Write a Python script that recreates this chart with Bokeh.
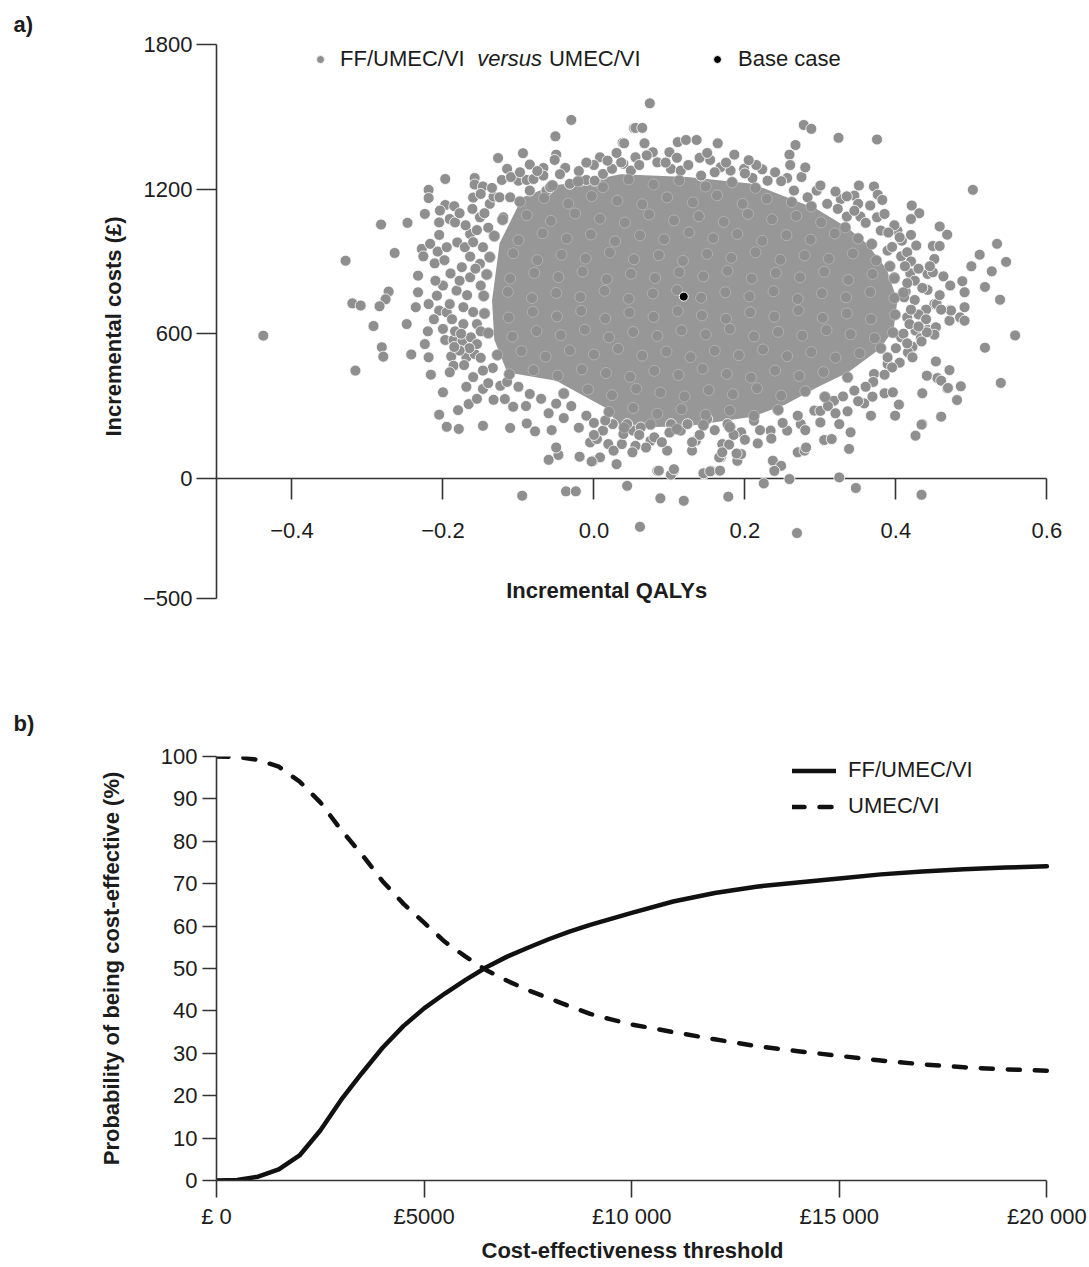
from bokeh.plotting import figure
from bokeh.layouts import column
from bokeh.models import (FixedTicker, CustomJSTickFormatter, Label, Legend, LegendItem,
                          LinearAxis, Range1d, Title)
from bokeh.embed import file_html
from bokeh.resources import INLINE

# ---------------- data: panel a (PSA scatter) ----------------
qaly_ticks = [-0.4, -0.2, 0.0, 0.2, 0.4, 0.6]
qaly_tick_labels = ["\u22120.4", "\u22120.2", "0.0", "0.2", "0.4", "0.6"]
cost_ticks = [-500, 0, 600, 1200, 1800]
cost_tick_labels = ["\u2212500", "0", "600", "1200", "1800"]

base_qaly = [0.119]
base_cost = [754]

# outlying / fringe simulations (incremental QALYs, incremental costs)
fringe_points = [
    (-0.438, 592), (-0.329, 903), (-0.282, 1053), (-0.247, 1060), (-0.264, 935), (-0.320, 726),
    (-0.309, 717), (-0.272, 775), (-0.276, 743), (-0.284, 714), (-0.292, 632), (-0.248, 640),
    (-0.316, 447), (-0.281, 544), (-0.279, 505), (-0.242, 514), (-0.224, 557), (-0.219, 502),
    (-0.216, 430), (-0.200, 357), (-0.205, 264), (-0.195, 214), (-0.179, 205), (-0.147, 218),
    (-0.111, 209), (-0.089, 228), (-0.078, 195), (-0.056, 200), (-0.060, 77), (-0.047, 97),
    (-0.050, 128), (-0.019, 90), (-0.001, 73), (0.008, 87), (0.030, 59), (-0.005, 149),
    (0.004, 163), (0.019, 142), (0.026, 115), (0.037, 142), (0.012, 198), (0.025, 225),
    (0.039, 184), (0.052, 198), (-0.169, 380), (-0.180, 283), (-0.166, 308), (-0.155, 330),
    (-0.147, 371), (-0.133, 326), (-0.124, 384), (-0.118, 329), (-0.107, 297), (-0.197, 1242),
    (-0.219, 1197), (-0.219, 1163), (-0.224, 1097), (-0.158, 1246), (-0.158, 1219), (-0.147, 1211),
    (-0.127, 1329), (-0.115, 1284), (-0.122, 1238), (-0.094, 1349), (-0.085, 1302), (-0.067, 1288),
    (-0.051, 1419), (-0.050, 1343), (-0.052, 1321), (-0.038, 1288), (-0.030, 1487), (0.008, 1332),
    (0.038, 1392), (0.053, 1453), (-0.197, 1134), (-0.185, 1129), (-0.204, 1111), (-0.191, 1076),
    (-0.184, 1062), (-0.205, 1062), (-0.228, 952), (-0.226, 921), (-0.217, 973), (-0.207, 941),
    (-0.195, 959), (-0.211, 892), (-0.233, 841), (-0.233, 772), (-0.236, 710), (-0.219, 723),
    (-0.208, 758), (-0.205, 696), (-0.195, 689), (-0.191, 723), (-0.197, 574), (-0.186, 574),
    (-0.174, 571), (-0.163, 585), (-0.184, 610), (-0.189, 506), (-0.186, 467), (-0.191, 440),
    (-0.169, 502), (-0.158, 516), (-0.134, 458), (-0.181, 979), (-0.171, 959), (-0.164, 920),
    (-0.175, 876), (-0.161, 1118), (-0.151, 1083), (-0.138, 1139), (-0.133, 1169), (-0.125, 1166),
    (-0.100, 1235), (-0.089, 1238), (-0.080, 1242), (-0.067, 1256), (-0.063, 1194), (-0.018, 1235),
    (-0.010, 1238), (0.001, 1235), (0.012, 1263), (0.024, 1284), (0.039, 1305),
    (0.074, 1556), (0.055, 1454), (0.064, 1454), (0.040, 1390), (0.067, 1390), (0.078, 1353),
    (0.055, 1332), (0.100, 1353), (0.111, 1395), (0.122, 1404), (0.136, 1404), (0.164, 1390),
    (0.154, 1321), (0.186, 1343), (0.278, 1466), (0.288, 1450), (0.324, 1413), (0.375, 1406),
    (0.267, 1383), (0.259, 1343), (0.223, 1282), (0.256, 1246), (0.295, 1194), (0.351, 1215),
    (0.371, 1211), (0.376, 1177), (0.382, 1155), (0.327, 1159), (0.345, 1173), (0.350, 1139),
    (0.366, 1132), (0.323, 1118), (0.335, 1086), (0.353, 1086), (0.375, 1083), (0.385, 1097),
    (0.502, 1197), (0.421, 1132), (0.431, 1100), (0.420, 1076), (0.458, 1045), (0.468, 1011),
    (0.408, 986), (0.427, 966), (0.449, 964), (0.458, 964), (0.451, 910), (0.534, 973),
    (0.511, 928), (0.500, 880), (0.527, 859), (0.546, 898), (0.518, 794), (0.538, 741),
    (0.558, 593), (0.518, 542), (0.539, 396), (0.442, 848), (0.449, 855), (0.463, 838),
    (0.472, 800), (0.488, 818), (0.491, 772), (0.491, 710), (0.485, 668), (0.491, 654),
    (0.472, 699), (0.471, 654), (0.442, 782), (0.451, 723), (0.454, 723), (0.419, 851),
    (0.413, 775), (0.407, 921), (0.415, 938), (0.426, 613), (0.433, 581), (0.442, 616),
    (0.453, 627), (0.451, 596), (0.422, 546), (0.416, 523), (0.422, 502), (0.453, 485),
    (0.471, 449), (0.442, 425), (0.455, 416), (0.460, 405), (0.468, 373), (0.486, 382),
    (0.481, 325), (0.435, 353), (0.460, 256), (0.435, 225), (0.426, 177), (0.399, 260),
    (0.404, 306), (0.367, 260), (0.358, 311), (0.369, 339), (0.385, 353), (0.396, 357),
    (0.338, 122), (0.340, 191), (0.325, 225), (0.336, 278), (0.305, 159), (0.315, 163),
    (0.300, 232), (0.325, 4), (0.347, -40), (0.259, -3), (0.270, 108), (0.279, 115),
    (0.237, 73), (0.248, 52), (0.239, 31), (0.225, -21), (0.217, 145), (0.190, 73),
    (0.195, 101), (0.168, 87), (0.170, 142), (0.166, 31), (0.155, 31), (0.146, 18),
    (0.130, 115), (0.135, 156), (0.106, 31), (0.097, 115), (0.084, 31), (0.115, 198),
    (0.075, 156), (0.069, 128), (0.055, 135), (0.051, 108), (0.044, -31),
    (-0.095, -72), (-0.037, -54), (-0.024, -54), (0.088, -83), (0.119, -93), (0.061, -201),
    (0.178, -76), (0.269, -227), (0.434, -68), (0.086, 32), (0.102, 15), (0.106, 38),
    (0.145, 21), (0.154, 29), (0.167, 32), (-0.003, 70), (0.434, 223), (0.469, 375),
    (0.441, 426), (0.473, 696), (0.441, 606), (0.434, 568), (0.281, 128), (0.189, 103),
    (0.179, 140), (0.166, 87), (0.170, 108),
]

# semi-dense belt around the central mass
belt_points = [
    (0.036, 1311), (0.049, 1277), (0.084, 1311), (0.102, 1284), (0.115, 1277), (0.142, 1256),
    (0.168, 1291), (0.181, 1277), (0.199, 1284), (0.210, 1246), (0.230, 1235), (0.248, 1233),
    (0.265, 1194), (0.283, 1166), (0.309, 1139),
    (0.044, 225), (0.062, 211), (0.080, 170), (0.102, 225), (0.124, 225), (0.150, 246),
    (0.177, 225), (0.195, 191), (0.212, 239), (0.234, 198), (0.256, 198), (0.274, 225),
    (0.292, 281), (0.318, 322), (0.345, 364), (0.371, 433), (0.389, 474),
    (-0.164, 834), (-0.182, 779), (-0.173, 710), (-0.155, 640), (-0.164, 1014), (-0.147, 959),
    (-0.151, 890), (-0.155, 557), (-0.147, 447), (-0.173, 640),
    (-0.111, 1166), (-0.085, 1194), (-0.058, 1208), (-0.032, 1222), (-0.120, 1083),
    (0.389, 945), (0.398, 834), (0.411, 751), (0.415, 668), (0.407, 585), (0.389, 502),
    (0.380, 1028), (0.402, 1028),
    (-0.205, 1010), (-0.198, 905), (-0.190, 850), (-0.200, 800), (-0.178, 820), (-0.168, 760),
    (-0.188, 660), (-0.176, 600), (-0.160, 690), (-0.150, 610), (-0.165, 540), (-0.178, 530),
    (-0.150, 500), (-0.172, 470), (-0.160, 420), (-0.140, 395), (-0.155, 1030), (-0.170, 1050),
    (-0.145, 1100), (-0.160, 1165), (-0.178, 1100), (-0.150, 1180), (-0.135, 1205), (-0.210, 820),
    (-0.212, 660), (-0.200, 620), (-0.220, 610), (-0.185, 545), (-0.157, 870), (-0.150, 800),
    (-0.160, 980), (-0.140, 1040),
    (-0.110, 1250), (-0.098, 1270), (-0.075, 1275), (-0.045, 1262), (-0.020, 1275), (0.000, 1300),
    (0.018, 1318), (0.060, 1300), (0.095, 1310), (0.125, 1300), (0.140, 1330), (0.160, 1270),
    (0.175, 1310), (0.200, 1265), (0.215, 1300), (0.240, 1270), (0.275, 1250), (0.300, 1215),
    (0.320, 1190), (0.335, 1170), (0.280, 1290), (0.110, 1330), (0.070, 1340), (0.030, 1350),
    (-0.010, 1310), (0.150, 1350), (0.205, 1320), (0.260, 1300),
    (0.405, 1000), (0.420, 1010), (0.395, 960), (0.420, 900), (0.430, 870), (0.412, 880),
    (0.425, 820), (0.435, 790), (0.415, 810), (0.425, 740), (0.440, 700), (0.430, 680),
    (0.420, 700), (0.440, 660), (0.418, 640), (0.430, 630), (0.410, 600), (0.415, 560),
    (0.400, 540), (0.405, 480), (0.395, 460), (0.385, 430), (0.370, 400), (0.360, 380),
    (0.445, 880), (0.458, 760), (0.460, 700), (0.398, 1050), (0.390, 1020), (0.360, 1060),
    (0.345, 1110),
    (-0.100, 380), (-0.085, 350), (-0.070, 330), (-0.050, 310), (-0.030, 300), (-0.010, 260),
    (0.000, 230), (0.015, 240), (-0.020, 210), (-0.040, 250), (-0.060, 270), (-0.090, 300),
    (0.060, 180), (0.090, 150), (0.100, 190), (0.140, 180), (0.160, 200), (0.200, 160),
    (0.220, 200), (0.250, 230), (0.270, 260), (0.280, 200), (0.300, 280), (0.310, 300),
    (0.320, 270), (0.330, 340), (0.350, 320), (0.000, 180), (0.130, 150), (0.185, 180),
    (0.235, 165), (-0.115, 400),
]

# simulations inside the dense central mass
core_points = [
    (-0.055, 1215), (-0.021, 1232), (0.012, 1208), (0.046, 1240), (0.079, 1219), (0.113, 1236),
    (0.148, 1211), (0.183, 1228), (0.214, 1205),
    (-0.098, 1148), (-0.066, 1163), (-0.034, 1140), (-0.003, 1171), (0.031, 1152), (0.064, 1137),
    (0.097, 1166), (0.131, 1145), (0.163, 1174), (0.197, 1139), (0.229, 1160), (0.262, 1146),
    (0.288, 1128),
    (-0.121, 1073), (-0.089, 1092), (-0.057, 1068), (-0.025, 1099), (0.008, 1077), (0.041, 1061),
    (0.073, 1095), (0.106, 1070), (0.139, 1088), (0.172, 1064), (0.204, 1097), (0.236, 1075),
    (0.268, 1089), (0.301, 1062), (0.333, 1041),
    (-0.132, 1005), (-0.100, 988), (-0.068, 1017), (-0.036, 995), (-0.004, 1012), (0.028, 983),
    (0.061, 1008), (0.093, 992), (0.126, 1021), (0.158, 996), (0.190, 1014), (0.223, 985),
    (0.255, 1009), (0.287, 990), (0.319, 1016), (0.350, 995), (0.368, 972),
    (-0.138, 918), (-0.107, 934), (-0.075, 905), (-0.043, 928), (-0.011, 912), (0.021, 937),
    (0.053, 909), (0.086, 926), (0.118, 902), (0.150, 931), (0.182, 915), (0.214, 938),
    (0.247, 907), (0.279, 925), (0.311, 911), (0.343, 933), (0.374, 904), (0.392, 880),
    (-0.142, 846), (-0.111, 829), (-0.079, 852), (-0.047, 835), (-0.015, 858), (0.017, 826),
    (0.049, 849), (0.081, 831), (0.113, 855), (0.145, 838), (0.177, 861), (0.209, 829),
    (0.241, 852), (0.273, 834), (0.305, 857), (0.337, 823), (0.369, 848), (0.398, 830),
    (-0.146, 757), (-0.114, 774), (-0.082, 748), (-0.050, 769), (-0.018, 752), (0.014, 778),
    (0.046, 745), (0.078, 767), (0.110, 781), (0.142, 749), (0.174, 772), (0.206, 755),
    (0.238, 776), (0.270, 744), (0.302, 768), (0.334, 751), (0.366, 773), (0.398, 748),
    (0.410, 770),
    (-0.145, 684), (-0.113, 667), (-0.081, 691), (-0.049, 672), (-0.017, 695), (0.015, 663),
    (0.047, 688), (0.079, 670), (0.111, 694), (0.143, 676), (0.175, 662), (0.207, 689),
    (0.239, 671), (0.271, 697), (0.303, 666), (0.335, 684), (0.367, 661), (0.399, 679),
    (-0.140, 603), (-0.108, 588), (-0.076, 611), (-0.044, 594), (-0.012, 617), (0.020, 585),
    (0.052, 607), (0.084, 591), (0.116, 614), (0.148, 597), (0.180, 620), (0.212, 589),
    (0.244, 608), (0.276, 592), (0.308, 615), (0.340, 598), (0.372, 582), (0.396, 605),
    (-0.128, 512), (-0.096, 528), (-0.064, 505), (-0.032, 531), (0.000, 514), (0.032, 538),
    (0.064, 509), (0.096, 526), (0.128, 503), (0.160, 529), (0.192, 511), (0.224, 535),
    (0.256, 507), (0.288, 524), (0.320, 501), (0.352, 519), (0.380, 540),
    (-0.112, 432), (-0.080, 449), (-0.048, 426), (-0.016, 452), (0.016, 437), (0.048, 421),
    (0.080, 446), (0.112, 429), (0.144, 455), (0.176, 433), (0.208, 418), (0.240, 447),
    (0.272, 425), (0.304, 441), (0.336, 419),
    (-0.040, 352), (-0.008, 369), (0.024, 345), (0.056, 372), (0.088, 356), (0.120, 340),
    (0.152, 366), (0.184, 349), (0.216, 374), (0.248, 343), (0.280, 361), (0.306, 338),
    (0.020, 276), (0.052, 292), (0.084, 268), (0.116, 287), (0.148, 263), (0.180, 281),
    (0.212, 259), (0.244, 284),
    (0.040, 210), (0.075, 224), (0.110, 205), (0.145, 221), (0.180, 213),
]

# outline of the saturated (fully overplotted) central mass
core_outline_qaly = [-0.135, -0.125, -0.095, -0.055, -0.012, 0.035, 0.124, 0.210, 0.252, 0.295,
                     0.336, 0.362, 0.388, 0.402, 0.397, 0.379, 0.337, 0.296, 0.253, 0.210,
                     0.124, 0.037, 0.014, -0.050, -0.115, -0.132]
core_outline_cost = [737, 975, 1165, 1215, 1232, 1262, 1250, 1222, 1170, 1118,
                     1040, 972, 866, 737, 618, 538, 440, 378, 305, 256,
                     216, 210, 295, 405, 440, 575]

# ---------------- data: panel b (CEAC) ----------------
thresholds = [0, 500, 1000, 1500, 2000, 2500, 3000, 3500, 4000, 4500, 5000, 5500, 6000, 6500,
              7000, 7500, 8000, 8500, 9000, 9500, 10000, 11000, 12000, 13000, 14000, 15000,
              16000, 17000, 18000, 19000, 20000]
prob_ff_umec_vi = [0.0, 0.1, 0.9, 2.6, 5.9, 11.8, 19.0, 25.3, 31.3, 36.4, 40.6, 44.1, 47.3, 50.3,
                   52.8, 54.9, 56.9, 58.7, 60.3, 61.7, 63.1, 65.8, 67.8, 69.3, 70.3, 71.2,
                   72.2, 72.9, 73.4, 73.8, 74.1]
prob_umec_vi = [100.0, 99.9, 99.2, 97.6, 94.1, 89.2, 82.7, 76.9, 70.6, 65.3, 60.8, 56.3, 52.8, 49.6,
                47.1, 44.9, 43.0, 41.1, 39.3, 38.0, 36.8, 35.0, 33.3, 31.7, 30.5, 29.4,
                28.3, 27.4, 26.7, 26.2, 25.9]
prob_ticks = [0, 10, 20, 30, 40, 50, 60, 70, 80, 90, 100]
threshold_ticks = [0, 5000, 10000, 15000, 20000]
threshold_tick_labels = ["\u00a3 0", "\u00a35000", "\u00a310 000", "\u00a315 000", "\u00a320 000"]

# ---------------- styling ----------------
FONT = "Liberation Sans"
TEXT = "#1c1c1c"
AXIS = "#333333"
GRAY = "#8f8f8f"
CORE = "#979797"
FS = "22px"

LABEL_JS = ("const i = tv.findIndex(t => Math.abs(t - tick) < 1e-9);"
            "return i >= 0 ? tl[i] : '';")


def style_axis(ax, tick_out, standoff, label_standoff):
    ax.axis_line_color = AXIS
    ax.axis_line_width = 1.6
    ax.major_tick_line_color = AXIS
    ax.major_tick_line_width = 1.6
    ax.major_tick_out = tick_out
    ax.major_tick_in = 0
    ax.minor_tick_line_color = None
    ax.major_label_text_font = FONT
    ax.major_label_text_font_size = FS
    ax.major_label_text_color = TEXT
    ax.major_label_standoff = standoff
    ax.axis_label_text_font = FONT
    ax.axis_label_text_font_size = FS
    ax.axis_label_text_font_style = "bold"
    ax.axis_label_text_color = TEXT
    ax.axis_label_standoff = label_standoff


def style_title(t, align, offset, standoff):
    t.align = align
    t.offset = offset
    t.standoff = standoff
    t.text_font = FONT
    t.text_font_size = FS
    t.text_font_style = "bold"
    t.text_color = TEXT


# ---------------- panel a ----------------
pa = figure(width=1088, height=686, x_range=Range1d(-0.5, 0.63), y_range=Range1d(-540, 1800),
            x_axis_type=None, y_axis_type=None, output_backend="svg", toolbar_location=None,
            title="a)", min_border_left=216, min_border_right=19, min_border_top=44,
            min_border_bottom=78)
pa.outline_line_color = None
style_title(pa.title, "left", -203, 16)

xa = LinearAxis(fixed_location=0, ticker=FixedTicker(ticks=qaly_ticks), bounds=(-0.5, 0.6),
                formatter=CustomJSTickFormatter(args=dict(tv=qaly_ticks, tl=qaly_tick_labels), code=LABEL_JS))
style_axis(xa, 21, 24, 0)
xa.level = "underlay"
pa.add_layout(xa, "below")

ya = LinearAxis(ticker=FixedTicker(ticks=cost_ticks), axis_label="Incremental costs (\u00a3)",
                bounds=(-500, 1800),
                formatter=CustomJSTickFormatter(args=dict(tv=cost_ticks, tl=cost_tick_labels), code=LABEL_JS))
style_axis(ya, 20, 4, 14)
pa.add_layout(ya, "left")

all_points = fringe_points + belt_points + core_points
psa_qaly = [p[0] for p in all_points]
psa_cost = [p[1] for p in all_points]
n_edge = len(fringe_points) + len(belt_points)

pa.patch(core_outline_qaly, core_outline_cost, fill_color=CORE, line_color=None)
r_psa = pa.scatter(psa_qaly[:n_edge], psa_cost[:n_edge], size=11, fill_color=GRAY,
                   line_color="white", line_width=0.8)
pa.scatter(psa_qaly[n_edge:], psa_cost[n_edge:], size=11, fill_color=GRAY,
           line_color="#bcbcbc", line_width=0.7)
r_base = pa.scatter(base_qaly, base_cost, size=9, fill_color="black", line_color="white", line_width=1)

leg_kw = dict(padding=0, margin=0, glyph_width=20, glyph_height=20, label_height=25,
              label_text_font=FONT, label_text_font_size=FS, label_text_color=TEXT,
              border_line_color=None, background_fill_alpha=0)
leg1 = Legend(items=[LegendItem(label="FF/UMEC/VI", renderers=[r_psa])], location=(94, 536),
              label_standoff=10, **leg_kw)
leg2 = Legend(items=[LegendItem(label="Base case", renderers=[r_base])], location=(491, 536),
              label_standoff=11, **leg_kw)
pa.add_layout(leg1)
pa.add_layout(leg2)

pa.add_layout(Label(x=-0.1545, y=1740, text="versus", text_font=FONT, text_font_size=FS,
                    text_font_style="italic", text_color=TEXT, text_baseline="middle"))
pa.add_layout(Label(x=-0.0596, y=1740, text="UMEC/VI", text_font=FONT, text_font_size=FS,
                    text_color=TEXT, text_baseline="middle"))
pa.add_layout(Label(x=0.0169, y=-465, text="Incremental QALYs", text_font=FONT, text_font_size=FS,
                    text_font_style="bold", text_color=TEXT, text_align="center",
                    text_baseline="middle"))

# ---------------- panel b ----------------
pb = figure(width=1088, height=580, x_range=Range1d(0, 20545), y_range=Range1d(0, 100),
            x_axis_type=None, y_axis_type=None, output_backend="svg", toolbar_location=None,
            title="b)", min_border_left=216, min_border_right=19, min_border_top=70,
            min_border_bottom=86)
pb.outline_line_color = None
style_title(pb.title, "left", -203, 42)

xb = LinearAxis(ticker=FixedTicker(ticks=threshold_ticks), bounds=(0, 20000),
                formatter=CustomJSTickFormatter(args=dict(tv=threshold_ticks, tl=threshold_tick_labels),
                                                code=LABEL_JS))
style_axis(xb, 17, 6, 6)
pb.add_layout(xb, "below")

xb_title = Title(text="Cost-effectiveness threshold")
style_title(xb_title, "left", 265, 8)
pb.add_layout(xb_title, "below")

yb = LinearAxis(ticker=FixedTicker(ticks=prob_ticks), axis_label="Probability of being cost-effective (%)")
style_axis(yb, 14, 5, 34)
pb.add_layout(yb, "left")

r_ff = pb.line(thresholds, prob_ff_umec_vi, line_width=4.5, line_color="#111111",
               line_cap="round", line_join="round")
r_um = pb.line(thresholds, prob_umec_vi, line_width=4.5, line_color="#111111",
               line_dash="12 15", line_cap="round", line_join="round")

legb = Legend(items=[LegendItem(label="FF/UMEC/VI", renderers=[r_ff]),
                     LegendItem(label="UMEC/VI", renderers=[r_um])],
              location=(576, 361), padding=0, margin=0, spacing=10, glyph_width=44, glyph_height=25,
              label_height=25, label_standoff=12, label_text_font=FONT, label_text_font_size=FS,
              label_text_color=TEXT, border_line_color=None, background_fill_alpha=0)
pb.add_layout(legb)

layout = column(pa, pb, spacing=0)
open("out.html", "w", encoding="utf-8").write(file_html(layout, INLINE))
